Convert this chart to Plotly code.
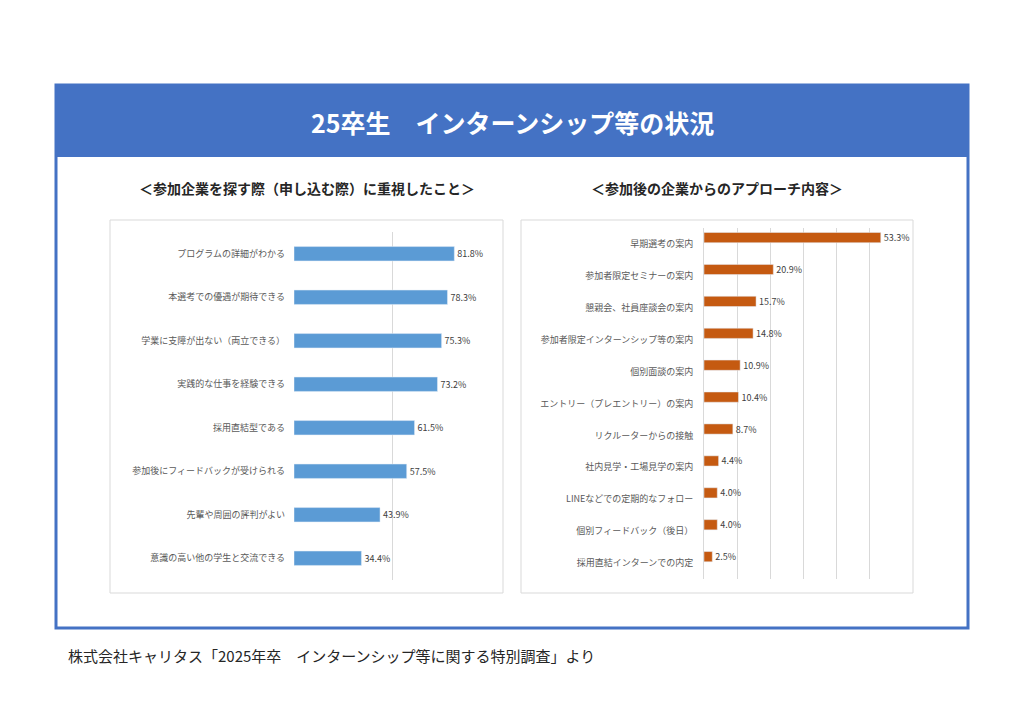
import plotly.graph_objects as go

# left chart: what students valued when looking for companies
leftLabels = ["プログラムの詳細がわかる", "本選考での優遇が期待できる", "学業に支障が出ない（両立できる）",
              "実践的な仕事を経験できる", "採用直結型である", "参加後にフィードバックが受けられる",
              "先輩や周囲の評判がよい", "意識の高い他の学生と交流できる"]
leftValues = [81.8, 78.3, 75.3, 73.2, 61.5, 57.5, 43.9, 34.4]

# right chart: approaches from companies after participating
rightLabels = ["早期選考の案内", "参加者限定セミナーの案内", "懇親会、社員座談会の案内",
               "参加者限定インターンシップ等の案内", "個別面談の案内", "エントリー（プレエントリー）の案内",
               "リクルーターからの接触", "社内見学・工場見学の案内", "LINEなどでの定期的なフォロー",
               "個別フィードバック（後日）", "採用直結インターンでの内定"]
rightValues = [53.3, 20.9, 15.7, 14.8, 10.9, 10.4, 8.7, 4.4, 4.0, 4.0, 2.5]

FONT = "Noto Sans CJK JP"
W, H, PAD = 1008, 708, 8   # page body has an 8px margin

#convert screen pixels to paper coords
def px(x):
    return (x - PAD) / W

def py(y):
    return 1 - (y - PAD) / H

fig = go.Figure()
fig.add_trace(go.Bar(x=leftValues, y=leftLabels, orientation="h", marker_color="#5B9BD5", width=0.33,
                     text=[f"{v:.1f}%" for v in leftValues], textposition="outside", cliponaxis=False,
                     constraintext="none", textfont=dict(size=9, color="#404040"), xaxis="x", yaxis="y"))
fig.add_trace(go.Bar(x=rightValues, y=rightLabels, orientation="h", marker_color="#C55A11", width=0.32, offset=-0.36,
                     text=[f"{v:.1f}%" for v in rightValues], textposition="outside", cliponaxis=False,
                     constraintext="none", textfont=dict(size=9, color="#404040"), xaxis="x2", yaxis="y2"))

axisCommon = dict(showline=False, zeroline=False, showticklabels=False, gridcolor="#D9D9D9", gridwidth=1)
fig.update_layout(
    width=W, height=H, margin=dict(l=0, r=0, t=0, b=0),
    paper_bgcolor="white", plot_bgcolor="rgba(0,0,0,0)", showlegend=False,
    font=dict(family=FONT),
    xaxis=dict(domain=[px(294), px(490)], range=[0, 100], dtick=50, **axisCommon),
    yaxis=dict(domain=[py(580), py(232)], autorange="reversed", tickfont=dict(size=9, color="#595959"),
               ticks="", ticklabelstandoff=8),
    xaxis2=dict(domain=[px(704), px(903)], range=[0, 60], dtick=10, anchor="y2", **axisCommon),
    yaxis2=dict(domain=[py(579), py(228)], autorange="reversed", anchor="x2", tickfont=dict(size=9, color="#595959"),
                ticks="", ticklabelstandoff=8, showline=True, linecolor="#D9D9D9"),
)

shapes = [
    dict(type="rect", xref="paper", yref="paper", x0=px(56), x1=px(968), y0=py(628), y1=py(85),
         line=dict(color="#4472C4", width=3), fillcolor="white", layer="below"),
    dict(type="rect", xref="paper", yref="paper", x0=px(56), x1=px(968), y0=py(157), y1=py(85),
         line=dict(width=0), fillcolor="#4472C4", layer="below"),
    dict(type="rect", xref="paper", yref="paper", x0=px(110), x1=px(503), y0=py(593), y1=py(220),
         line=dict(color="#D9D9D9", width=1), layer="below"),
    dict(type="rect", xref="paper", yref="paper", x0=px(521), x1=px(913), y0=py(593), y1=py(220),
         line=dict(color="#D9D9D9", width=1), layer="below"),
]
fig.update_layout(shapes=shapes)

fig.add_annotation(text="<b>25卒生　インターンシップ等の状況</b>", xref="paper", yref="paper", x=px(512), y=py(122),
                   xanchor="center", yanchor="middle", showarrow=False, font=dict(size=25, color="white"))
fig.add_annotation(text="<b>＜参加企業を探す際（申し込む際）に重視したこと＞</b>", xref="paper", yref="paper",
                   x=px(307), y=py(188), xanchor="center", yanchor="middle", showarrow=False,
                   font=dict(size=14, color="#262626"))
fig.add_annotation(text="<b>＜参加後の企業からのアプローチ内容＞</b>", xref="paper", yref="paper",
                   x=px(717), y=py(188), xanchor="center", yanchor="middle", showarrow=False,
                   font=dict(size=14, color="#262626"))
fig.add_annotation(text="株式会社キャリタス「2025年卒　インターンシップ等に関する特別調査」より", xref="paper", yref="paper",
                   x=px(66), y=py(655), xanchor="left", yanchor="middle", showarrow=False,
                   font=dict(size=15, color="#262626"))

fig.write_html("out.html")
